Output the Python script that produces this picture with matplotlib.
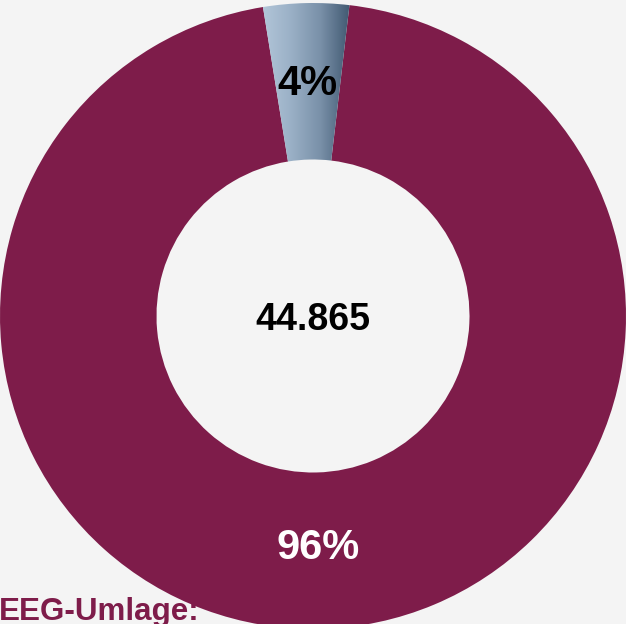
import matplotlib.pyplot as plt
import numpy as np
from matplotlib.colors import LinearSegmentedColormap

# values
labels = ["Sonstige", "EEG-Umlage"]
values = [1980, 42885]
total_label = "44.865"
legend_text = "EEG-Umlage:"

bg = "#f4f4f4"
maroon = "#7e1c4a"

plt.rcParams['font.family'] = ['Liberation Sans', 'DejaVu Sans']

fig = plt.figure(figsize=(6.26, 6.24), dpi=100, facecolor=bg)
ax = fig.add_axes([0, 0, 1, 1])
ax.set_facecolor(bg)

wedges, texts, autotexts = ax.pie(
    values, colors=["none", maroon], startangle=99.2, counterclock=False,
    radius=1.0, autopct='%.0f%%', pctdistance=0.74,
    wedgeprops=dict(width=0.5, linewidth=0),
    textprops=dict(fontsize=30, fontweight='bold'))

autotexts[0].set_color("black")
autotexts[1].set_color("white")

# gradient fill for small slice
cmap = LinearSegmentedColormap.from_list("blues", ["#b4c7da", "#9bb1c7", "#7990a8", "#3f5770"])
grad = np.linspace(0, 1, 256).reshape(1, -1)
img = ax.imshow(grad, cmap=cmap, extent=[-0.17, 0.12, 0.45, 1.01], aspect='auto', zorder=1)
img.set_clip_path(wedges[0])
autotexts[0].set_zorder(3)

ax.text(0, -0.014, total_label, ha='center', va='center', fontsize=27, fontweight='bold', color='black')
ax.text(-1.005, -0.972, legend_text, ha='left', va='baseline', fontsize=22.6,
        fontweight='bold', color=maroon)

ax.set_xlim(-1, 1)
ax.set_ylim(-0.984, 1.0096)
ax.set_aspect('equal')
ax.axis('off')

plt.savefig('out.png', dpi=100, facecolor=bg)
